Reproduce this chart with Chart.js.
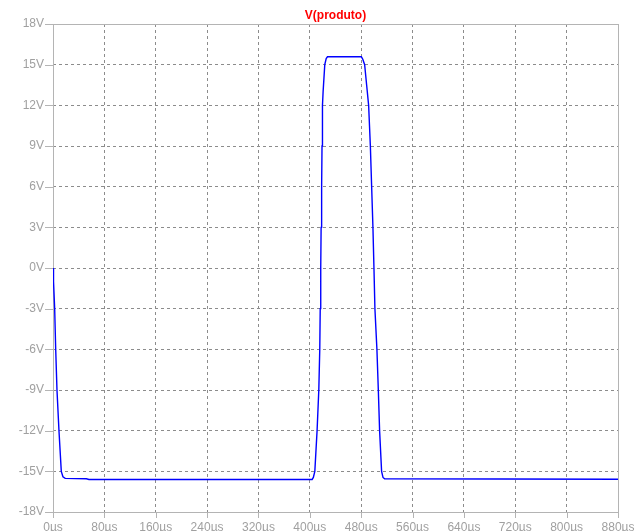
<!DOCTYPE html>
<html>
<head>
<meta charset="utf-8">
<script src="https://cdn.jsdelivr.net/npm/chart.js@4/dist/chart.umd.min.js"></script>
<style>
  html, body { margin: 0; padding: 0; background: #ffffff; }
  #wrap { width: 644px; height: 531px; }
</style>
</head>
<body>
<div id="wrap"><canvas id="plot"></canvas></div>
<script>
// simulated node voltage V(produto), time in microseconds
const timeUs = [
  0, 0.8, 2.6, 4.2, 6.2, 9.3, 12.9, 15.5, 19, 52, 56,
  403.6, 405.5, 407.8, 411.3, 414, 415.5, 416.2, 417, 417.6, 418.4, 419, 419.7, 420.7, 423.3, 425.5, 427.5,
  480.3, 482.5, 485.4, 488.5, 491.6, 494.3, 496.3, 498.3, 499.9, 501.4, 504.5, 506.7, 508.7, 511.8, 514, 516.5,
  880
];
const volts = [
  0, -1, -3, -6, -9, -12, -15, -15.4, -15.52, -15.55, -15.6,
  -15.6, -15.45, -15, -12, -9, -6, -3, 0, 3, 6, 9, 12, 13, 15, 15.45, 15.58,
  15.58, 15.4, 15, 13.5, 12, 9, 6, 3, 0, -3, -6, -9, -12, -15, -15.45, -15.55,
  -15.58
];
const xTicks = [0, 80, 160, 240, 320, 400, 480, 560, 640, 720, 800, 880];
const yTicks = [-18, -15, -12, -9, -6, -3, 0, 3, 6, 9, 12, 15, 18];
const traceName = 'V(produto)';

const frameColor = '#b4b4b4';
const gridColor = '#8c8c8c';
const labelFont = { family: 'Liberation Sans, Arial, sans-serif', size: 12 };

// solid frame round the plot, short tick marks outside it, trace name above
const framePlugin = {
  id: 'frame',
  beforeDatasetsDraw(chart) {
    const { ctx, chartArea: a, scales } = chart;
    ctx.save();
    ctx.strokeStyle = frameColor;
    ctx.lineWidth = 1;
    ctx.setLineDash([]);
    ctx.strokeRect(Math.round(a.left) + 0.5, Math.round(a.top) + 0.5,
      Math.round(a.right - a.left), Math.round(a.bottom - a.top));
    ctx.beginPath();
    scales.x.ticks.forEach(t => {
      const px = Math.round(scales.x.getPixelForValue(t.value)) + 0.5;
      ctx.moveTo(px, a.bottom);
      ctx.lineTo(px, a.bottom + 6);
    });
    scales.y.ticks.forEach(t => {
      const py = Math.round(scales.y.getPixelForValue(t.value)) + 0.5;
      ctx.moveTo(a.left - 8, py);
      ctx.lineTo(a.left, py);
    });
    ctx.stroke();

    ctx.fillStyle = '#ff0000';
    ctx.font = 'bold 12px "Liberation Sans", Arial, sans-serif';
    ctx.textAlign = 'center';
    ctx.textBaseline = 'middle';
    ctx.fillText(traceName, (a.left + a.right) / 2, a.top - 8);
    ctx.restore();
  }
};

const edgeless = (min, max) => c =>
  (c.tick && (c.tick.value === min || c.tick.value === max)) ? 'rgba(0,0,0,0)' : gridColor;

new Chart(document.getElementById('plot'), {
  type: 'line',
  data: {
    datasets: [{
      label: traceName,
      data: timeUs.map((t, i) => ({ x: t, y: volts[i] })),
      borderColor: '#0000ff',
      borderWidth: 1.4,
      pointRadius: 0,
      tension: 0,
      fill: false
    }]
  },
  options: {
    responsive: true,
    maintainAspectRatio: false,
    animation: false,
    layout: { padding: { left: 0, right: 26, top: 24, bottom: 0 } },
    plugins: {
      legend: { display: false },
      tooltip: { enabled: false },
      title: { display: false }
    },
    scales: {
      x: {
        type: 'linear',
        min: 0,
        max: 880,
        afterBuildTicks: s => { s.ticks = xTicks.map(v => ({ value: v })); },
        afterFit: s => { s.height = 19; },
        grid: { color: edgeless(0, 880), drawTicks: false, lineWidth: 1 },
        border: { display: false, dash: [3, 3] },
        ticks: {
          color: '#a0a0a0',
          font: labelFont,
          padding: 8,
          maxRotation: 0,
          autoSkip: false,
          callback: v => v + 'µs'
        }
      },
      y: {
        min: -18,
        max: 18,
        afterBuildTicks: s => { s.ticks = yTicks.map(v => ({ value: v })); },
        afterFit: s => { s.width = 53; },
        grid: { color: edgeless(-18, 18), drawTicks: false, lineWidth: 1 },
        border: { display: false, dash: [3, 3] },
        ticks: {
          color: '#a0a0a0',
          font: labelFont,
          padding: 9,
          autoSkip: false,
          callback: v => v + 'V'
        }
      }
    }
  },
  plugins: [framePlugin]
});
</script>
</body>
</html>
